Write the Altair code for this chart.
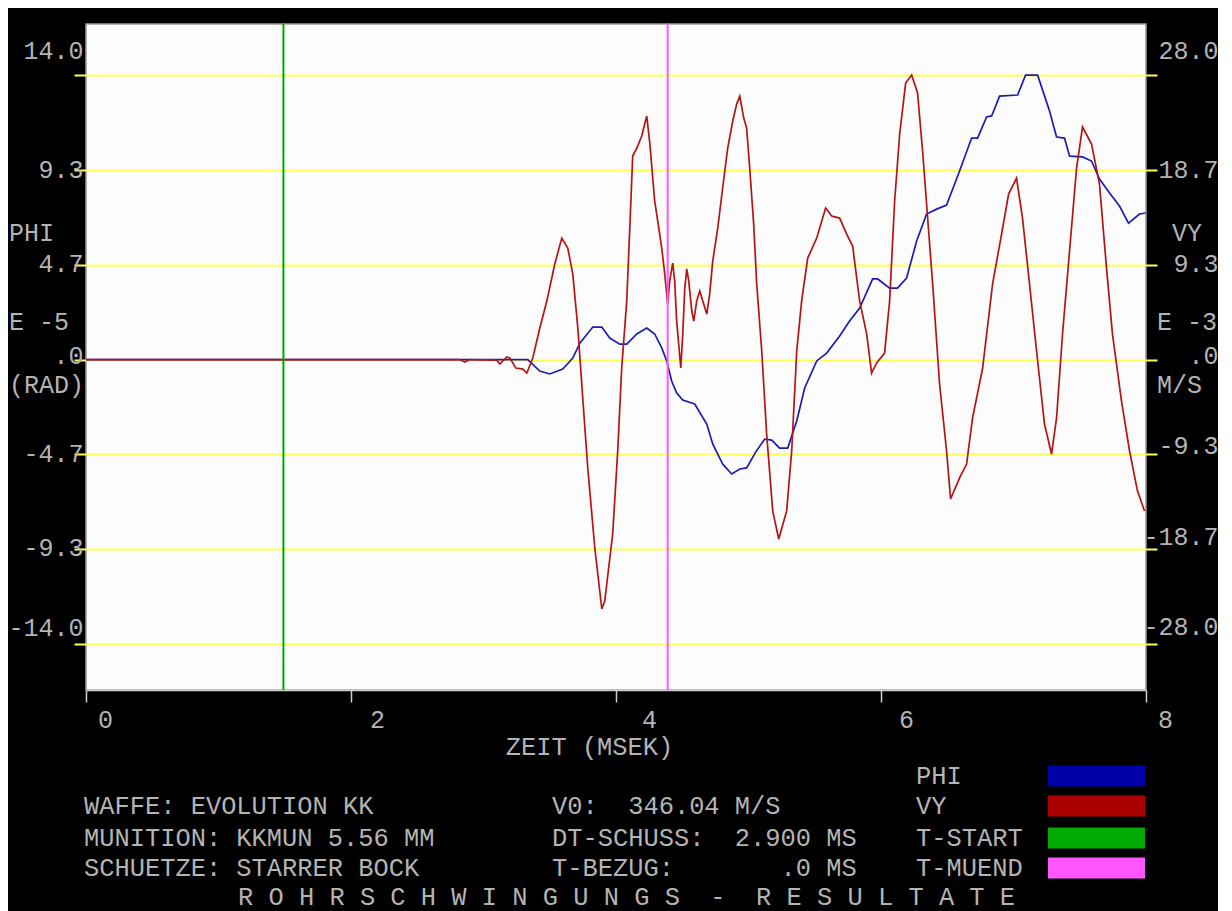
import altair as alt
import pandas as pd

# ---------------- values ----------------
# PHI (blue, left axis, E-5 rad)
phi_t = [0.0, 3.334, 3.425, 3.500, 3.598, 3.674, 3.727, 3.825, 3.893, 3.953,
         4.028, 4.081, 4.157, 4.232, 4.292, 4.345, 4.383, 4.420, 4.458, 4.504,
         4.594, 4.685, 4.730, 4.805, 4.873, 4.934, 4.986, 5.054, 5.122, 5.175,
         5.235, 5.296, 5.364, 5.424, 5.515, 5.590, 5.688, 5.763, 5.839, 5.937,
         5.975, 6.065, 6.125, 6.193, 6.269, 6.344, 6.420, 6.495, 6.593, 6.684,
         6.729, 6.797, 6.835, 6.895, 7.031, 7.091, 7.182, 7.272, 7.325, 7.385,
         7.423, 7.521, 7.589, 7.649, 7.725, 7.800, 7.868, 7.951, 7.996]
phi_v = [0.0, 0.0, -0.57, -0.71, -0.47, 0.07, 0.81, 1.60, 1.60, 1.06,
         0.76, 0.76, 1.26, 1.55, 1.26, 0.57, -0.07, -1.06, -1.65, -2.00,
         -2.19, -3.18, -4.16, -5.15, -5.64, -5.39, -5.34, -4.56, -3.92, -3.97,
         -4.36, -4.36, -3.03, -1.40, -0.07, 0.32, 1.16, 1.90, 2.54, 3.97,
         3.97, 3.52, 3.52, 4.01, 5.84, 7.17, 7.41, 7.61, 9.29, 10.91,
         10.91, 11.95, 12.00, 12.98, 13.03, 14.01, 14.01, 12.24, 10.96, 10.91,
         10.02, 9.98, 9.78, 8.89, 8.20, 7.56, 6.72, 7.17, 7.22]

# VY (red, right axis, E-3 m/s)
vy_t = [0.0, 2.821, 2.859, 2.897, 3.100, 3.123, 3.176, 3.199, 3.244, 3.297,
        3.327, 3.372, 3.425, 3.478, 3.538, 3.591, 3.636, 3.674, 3.712, 3.749,
        3.787, 3.840, 3.893, 3.915, 3.975, 4.013, 4.043, 4.081, 4.104, 4.126,
        4.157, 4.194, 4.232, 4.255, 4.292, 4.315, 4.345, 4.368, 4.390, 4.405,
        4.428, 4.443, 4.458, 4.489, 4.504, 4.519, 4.534, 4.549, 4.572, 4.587,
        4.609, 4.632, 4.655, 4.685, 4.707, 4.730, 4.768, 4.805, 4.843, 4.881,
        4.911, 4.934, 4.964, 4.986, 5.009, 5.039, 5.062, 5.100, 5.137, 5.183,
        5.228, 5.288, 5.326, 5.364, 5.401, 5.447, 5.515, 5.582, 5.628, 5.688,
        5.741, 5.786, 5.839, 5.892, 5.929, 5.967, 6.027, 6.065, 6.103, 6.141,
        6.186, 6.231, 6.276, 6.314, 6.352, 6.390, 6.442, 6.495, 6.525, 6.593,
        6.646, 6.691, 6.767, 6.842, 6.910, 6.963, 7.023, 7.068, 7.121, 7.174,
        7.234, 7.287, 7.325, 7.370, 7.423, 7.476, 7.521, 7.589, 7.649, 7.702,
        7.747, 7.815, 7.876, 7.936, 7.989]
vy_v = [0.0, 0.0, -0.25, 0.0, -0.05, -0.44, 0.25, 0.15, -0.84, -0.94,
        -1.33, 0.15, 3.10, 5.76, 9.41, 11.97, 10.99, 8.42, 3.10, -3.79,
        -10.69, -18.57, -24.58, -23.79, -17.19, -9.01, -0.84, 5.76, 12.96, 20.05,
        20.84, 22.02, 23.99, 21.33, 15.62, 13.65, 10.99, 8.42, 5.47, 7.73,
        9.51, 7.73, 3.79, -0.84, 2.51, 7.04, 8.92, 7.73, 4.78, 3.79,
        5.76, 6.75, 5.76, 4.48, 6.45, 9.70, 12.96, 16.90, 20.84, 23.50,
        25.17, 25.96, 23.79, 22.81, 18.87, 13.35, 7.44, 0.84, -7.34, -14.93,
        -17.68, -14.93, -9.01, 0.84, 5.76, 10.00, 11.97, 14.93, 14.14, 13.94,
        12.36, 11.18, 5.76, 2.51, -1.33, -0.34, 0.64, 5.76, 15.62, 22.22,
        27.24, 28.03, 26.26, 20.54, 13.94, 7.44, -2.41, -9.01, -13.74, -11.67,
        -10.30, -5.76, -0.84, 7.44, 12.36, 16.31, 17.88, 13.94, 7.44, 0.84,
        -6.35, -9.31, -5.76, 2.51, 10.69, 18.87, 22.91, 21.23, 17.29, 9.01,
        2.51, -4.09, -9.01, -12.96, -14.93]

assert len(phi_t) == len(phi_v) and len(vy_t) == len(vy_v)

# time markers
marker_names = ["T-START", "T-MUEND"]
marker_t = [1.49, 4.39]

# axes ticks and labels
x_ticks = [0, 2, 4, 6, 8]
phi_ticks = [-14.0, -9.333, -4.667, 0.0, 4.667, 9.333, 14.0]
phi_labels = ["-14.0", "-9.3", "-4.7", ".0", "4.7", "9.3", "14.0"]
vy_ticks = [-28.0, -18.667, -9.333, 0.0, 9.333, 18.667, 28.0]
vy_labels = ["-28.0", "-18.7", "-9.3", ".0", "9.3", "18.7", "28.0"]
phi_domain = [-16.28, 16.53]
vy_domain = [-32.56, 33.06]

# texts
legend_names = ["PHI", "VY", "T-START", "T-MUEND"]
legend_colors = ["#0000aa", "#aa0000", "#00aa00", "#ff55ff"]
info_left = ["WAFFE: EVOLUTION KK", "MUNITION: KKMUN 5.56 MM", "SCHUETZE: STARRER BOCK"]
info_mid = ["V0:  346.04 M/S", "DT-SCHUSS:  2.900 MS", "T-BEZUG:       .0 MS"]
title_text = "R O H R S C H W I N G U N G S  -  R E S U L T A T E"
left_title = ["PHI", "E -5", "(RAD)"]
right_title = ["VY", "E -3", "M/S"]

# ---------------- styling ----------------
FONT = "Liberation Mono"
FS = 25.4
AFS = 25
TXT = "#b4b4b4"
YEL = "#ffff55"
W, H = 1060, 666


def nb(s):
    return s.replace(" ", "\u00a0")


def lab_expr(vals, labs):
    arr_l = "[" + ",".join("'" + l + "'" for l in labs) + "]"
    arr_v = "[" + ",".join(repr(v) for v in vals) + "]"
    return f"{arr_l}[indexof({arr_v}, datum.value)]"


x_scale = alt.Scale(domain=[0, 8], nice=False, zero=False)
x_axis = alt.Axis(
    values=x_ticks, format="d", title="ZEIT (MSEK)", grid=False,
    domainColor="#cfcfcf", domainWidth=1.5, tickColor="#cfcfcf", tickWidth=1.5,
    tickSize=12, labelColor=TXT, labelFont=FONT, labelFontSize=AFS,
    labelPadding=17, labelBaseline="middle", labelFlush=False, labelOverlap=False,
    labelOffset={"condition": [{"test": "datum.value == 4", "value": 33},
                               {"test": "datum.value == 2", "value": 26},
                               {"test": "datum.value == 6", "value": 25}],
                 "value": 19},
    titleColor=TXT, titleFont=FONT, titleFontSize=FS, titleFontWeight="normal",
    titleX=503, titleY=56, titleAlign="center", titleBaseline="middle",
)

phi_axis = alt.Axis(
    orient="left", values=phi_ticks, labelExpr=lab_expr(phi_ticks, phi_labels),
    title=None, domain=False, grid=True, gridColor=YEL, gridWidth=2,
    tickColor=YEL, tickWidth=2, tickSize=12, labelColor=TXT, labelFont=FONT,
    labelFontSize=AFS, labelPadding=-9, labelFlush=False, labelOverlap=False,
    labelOffset={"condition": [{"test": "datum.value > 13", "value": -25},
                               {"test": "datum.value < -13", "value": -16},
                               {"test": "datum.value == 0", "value": -4}],
                 "value": -1},
)

vy_axis = alt.Axis(
    orient="right", values=vy_ticks, labelExpr=lab_expr(vy_ticks, vy_labels),
    title=None, domain=False, grid=False,
    tickColor=YEL, tickWidth=2, tickSize=11, labelColor=TXT, labelFont=FONT,
    labelFontSize=AFS, labelPadding=61, labelAlign="right", labelFlush=False,
    labelOverlap=False,
    labelOffset={"condition": [{"test": "datum.value > 20", "value": -25},
                               {"test": "datum.value < -20", "value": -17},
                               {"test": "datum.value < -15", "value": -12},
                               {"test": "datum.value < -5", "value": -9},
                               {"test": "datum.value == 0", "value": -4}],
                 "value": -1},
)

df_phi = pd.DataFrame({"t": phi_t, "phi": phi_v})
df_vy = pd.DataFrame({"t": vy_t, "vy": vy_v})

phi_line = alt.Chart(df_phi).mark_line(color="#1c1cb4", strokeWidth=1.7).encode(
    x=alt.X("t:Q", scale=x_scale, axis=x_axis),
    y=alt.Y("phi:Q", scale=alt.Scale(domain=phi_domain, nice=False, zero=False), axis=phi_axis),
)
vy_line = alt.Chart(df_vy).mark_line(color="#b41414", strokeWidth=1.7).encode(
    x=alt.X("t:Q", scale=x_scale, axis=x_axis),
    y=alt.Y("vy:Q", scale=alt.Scale(domain=vy_domain, nice=False, zero=False), axis=vy_axis),
)

layers = [phi_line, vy_line]
for name, tval, col in zip(marker_names, marker_t, legend_colors[2:]):
    layers.append(
        alt.Chart(pd.DataFrame({"t": [tval], "name": [name]}))
        .mark_rule(color=col, strokeWidth=2)
        .encode(x=alt.X("t:Q", scale=x_scale, axis=x_axis))
    )


def txt(s, x, y, align="left", size=FS):
    return alt.Chart(pd.DataFrame({"s": [nb(s)]})).mark_text(
        align=align, baseline="middle", font=FONT, fontSize=size, color=TXT
    ).encode(x=alt.value(x), y=alt.value(y), text="s:N")


# axis side titles
for s, yy in zip(left_title, [209, 298, 361]):
    layers.append(txt(s, -77, yy, size=AFS))
for s, xx, yy in zip(right_title, [1086, 1071, 1071], [209, 298, 361]):
    layers.append(txt(s, xx, yy, size=AFS))

# info block
for s, yy in zip(info_left, [782, 814, 844]):
    layers.append(txt(s, -2, yy))
for s, yy in zip(info_mid, [782, 814, 844]):
    layers.append(txt(s, 466, yy))

# legend
leg_y = [752, 782, 814, 844]
for name, col, yy in zip(legend_names, legend_colors, leg_y):
    layers.append(txt(name, 830, yy))
    layers.append(
        alt.Chart(pd.DataFrame({"n": [name]})).mark_rect(color=col).encode(
            x=alt.value(962), x2=alt.value(1059),
            y=alt.value(yy - 10.5), y2=alt.value(yy + 10.5),
        )
    )

# bottom title
layers.append(txt(title_text, 152, 873))

chart = (
    alt.layer(*layers)
    .resolve_scale(y="independent")
    .properties(
        width=W, height=H,
        autosize=alt.AutoSizeParams(type="none"),
        padding={"left": 78, "top": 16, "right": 72, "bottom": 232},
        background="#000000",
    )
    .configure_view(fill="#fcfcfc", stroke="#9a9a9a", strokeWidth=1.5)
)

chart.save("out.html", embed_options={"renderer": "svg", "actions": False})
